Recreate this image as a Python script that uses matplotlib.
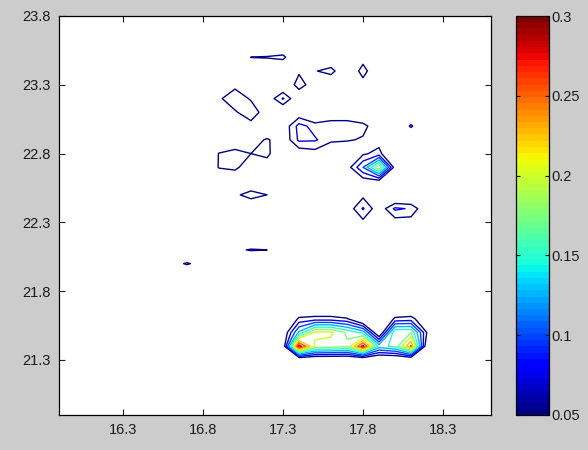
import numpy as np
import matplotlib
matplotlib.use("Agg")
import matplotlib.pyplot as plt
import matplotlib.colors as colors
from matplotlib.cm import ScalarMappable

plt.rcParams['font.family'] = ['Liberation Sans', 'DejaVu Sans']

# regular 0.1 degree grid
lon_axis = np.round(np.arange(15.9, 18.65, 0.1), 1)
lat_axis = np.round(np.arange(20.9, 23.85, 0.1), 1)

# non-zero grid nodes (everything else is 0)
# southern cluster, rows 21.4 / 21.5 / 21.6 over lon 17.3 .. 18.2
south_lon = [17.3, 17.4, 17.5, 17.6, 17.7, 17.8, 17.9, 18.0, 18.1, 18.2]
south_214 = [0.023, 0.29, 0.195, 0.19, 0.18, 0.285, 0.14, 0.157, 0.255, 0.02]
south_215 = [0.02, 0.13, 0.206, 0.205, 0.17, 0.14, 0.01, 0.175, 0.174, 0.048]
south_216 = [0.0, 0.055, 0.06, 0.06, 0.052, 0.0, 0.0, 0.055, 0.06, 0.02]

# scattered northern nodes
node_lon = [
    17.1, 17.2, 17.3,                                   # 23.5 ridge
    17.4, 17.4, 17.5, 17.3, 17.4,                       # 23.3 cell
    17.5, 17.6,                                         # 23.4 cell
    17.8, 17.8, 17.8,                                   # 23.4 spot
    16.9, 17.0, 17.0, 17.1, 17.1, 17.0, 17.2, 17.1,     # 23.2 / 23.1 band
    17.3, 17.2, 17.4, 17.3, 17.4,                       # 23.2 spot
    17.3, 17.3, 17.4, 17.4, 17.4, 17.4, 17.5, 17.5, 17.5,
    17.6, 17.6, 17.6, 17.7, 17.7, 17.7, 17.8, 17.8, 17.9,  # 23.0 cell
    18.1,
    16.9, 16.9, 17.0, 17.0, 17.0, 17.0, 17.1, 17.1, 17.1,
    17.2, 17.2, 17.2, 17.3,                             # 22.8 pair
    17.7, 17.8, 17.9, 18.0, 17.9, 17.9, 17.8, 17.8, 17.9, 17.9,  # 22.7 cell
    17.7, 17.8, 17.9, 17.8, 17.8,                       # 22.4 spot
    18.0, 18.1, 18.2, 18.0, 18.1,                       # 22.4 cell
    17.0, 17.1, 17.2,                                   # 22.5 band
    17.0, 17.1, 17.2,                                   # 22.1 band
    16.6, 16.7, 16.8,                                   # 22.0 spot
]
node_lat = [
    23.5, 23.5, 23.5,
    23.3, 23.4, 23.3, 23.3, 23.2,
    23.4, 23.4,
    23.4, 23.5, 23.3,
    23.2, 23.2, 23.3, 23.1, 23.2, 23.1, 23.1, 23.0,
    23.2, 23.2, 23.2, 23.1, 23.1,
    23.0, 22.9, 23.0, 22.9, 22.8, 23.1, 23.0, 22.9, 22.8,
    23.0, 22.9, 23.1, 23.0, 22.9, 23.1, 23.0, 22.9, 23.0,
    23.0,
    22.8, 22.7, 22.8, 22.7, 22.6, 22.9, 22.8, 22.7, 22.9,
    22.8, 22.9, 22.7, 22.8,
    22.7, 22.7, 22.7, 22.7, 22.8, 22.6, 22.8, 22.6, 22.9, 22.5,
    22.4, 22.4, 22.4, 22.5, 22.3,
    22.4, 22.4, 22.4, 22.3, 22.3,
    22.5, 22.5, 22.5,
    22.1, 22.1, 22.1,
    22.0, 22.0, 22.0,
]
node_val = [
    0.051, 0.053, 0.06,
    0.065, 0.045, 0.03, 0.015, 0.02,
    0.047, 0.067,
    0.069, 0.03, 0.03,
    0.045, 0.07, 0.041, 0.07, 0.046, 0.046, 0.03, 0.037,
    0.078, 0.028, 0.02, 0.015, 0.027,
    0.027, 0.027, 0.085, 0.08, 0.03, 0.027, 0.065, 0.078, 0.038,
    0.063, 0.06, 0.03, 0.063, 0.055, 0.03, 0.063, 0.045, 0.02,
    0.056,
    0.052, 0.053, 0.06, 0.057, 0.022, 0.027, 0.05, 0.03, 0.03,
    0.06, 0.055, 0.027, 0.01,
    0.035, 0.1, 0.2, 0.035, 0.06, 0.04, 0.045, 0.035, 0.037, 0.01,
    0.03, 0.078, 0.03, 0.042, 0.042,
    0.08, 0.072, 0.02, 0.035, 0.035,
    0.04, 0.07, 0.05,
    0.043, 0.053, 0.0502,
    0.035, 0.054, 0.035,
]

levels = np.arange(0.05, 0.3001, 0.025)
tick_vals = [0.05, 0.1, 0.15, 0.2, 0.25, 0.3]
tick_text = ['0.05', '0.1', '0.15', '0.2', '0.25', '0.3']
x_ticks = [16.3, 16.8, 17.3, 17.8, 18.3]
y_ticks = [21.3, 21.8, 22.3, 22.8, 23.3, 23.8]

Z = np.zeros((lat_axis.size, lon_axis.size))


def put(lo, la, v):
    i = int(np.argmin(np.abs(lat_axis - la)))
    j = int(np.argmin(np.abs(lon_axis - lo)))
    Z[i, j] = v


for row_lat, row in ((21.4, south_214), (21.5, south_215), (21.6, south_216)):
    for lo, v in zip(south_lon, row):
        put(lo, row_lat, v)
for lo, la, v in zip(node_lon, node_lat, node_val):
    put(lo, la, v)

LON, LAT = np.meshgrid(lon_axis, lat_axis)

jet = plt.get_cmap('jet', 64)
norm = colors.Normalize(vmin=0.05, vmax=0.3)

fig = plt.figure(figsize=(5.88, 4.5), dpi=100, facecolor='#cccccc')
ax = fig.add_axes([59 / 588, 35 / 450, 432 / 588, 399 / 450])
ax.set_facecolor('white')
ax.contour(LON, LAT, Z, levels=levels, cmap=jet, norm=norm, linewidths=1.0)

ax.set_xlim(15.9, 18.6)
ax.set_ylim(20.9, 23.8)
ax.set_xticks(x_ticks)
ax.set_yticks(y_ticks)
ax.set_xticklabels(['%.1f' % t for t in x_ticks])
ax.set_yticklabels(['%.1f' % t for t in y_ticks])
ax.tick_params(direction='in', length=4, width=0.8, top=True, right=True,
               labelsize=10.5, pad=6, colors='#1a1a1a')
for sp in ax.spines.values():
    sp.set_linewidth(0.9)

cax = fig.add_axes([516 / 588, 35 / 450, 33 / 588, 399 / 450])
cb = fig.colorbar(ScalarMappable(norm=norm, cmap=jet), cax=cax)
cb.set_ticks(tick_vals)
cb.set_ticklabels(tick_text)
cax.tick_params(direction='in', length=3, width=0.8, left=True, right=True,
                labelsize=10.5, pad=2, colors='#1a1a1a')
cb.outline.set_linewidth(0.9)

fig.savefig('out.png', dpi=100, facecolor=fig.get_facecolor())
